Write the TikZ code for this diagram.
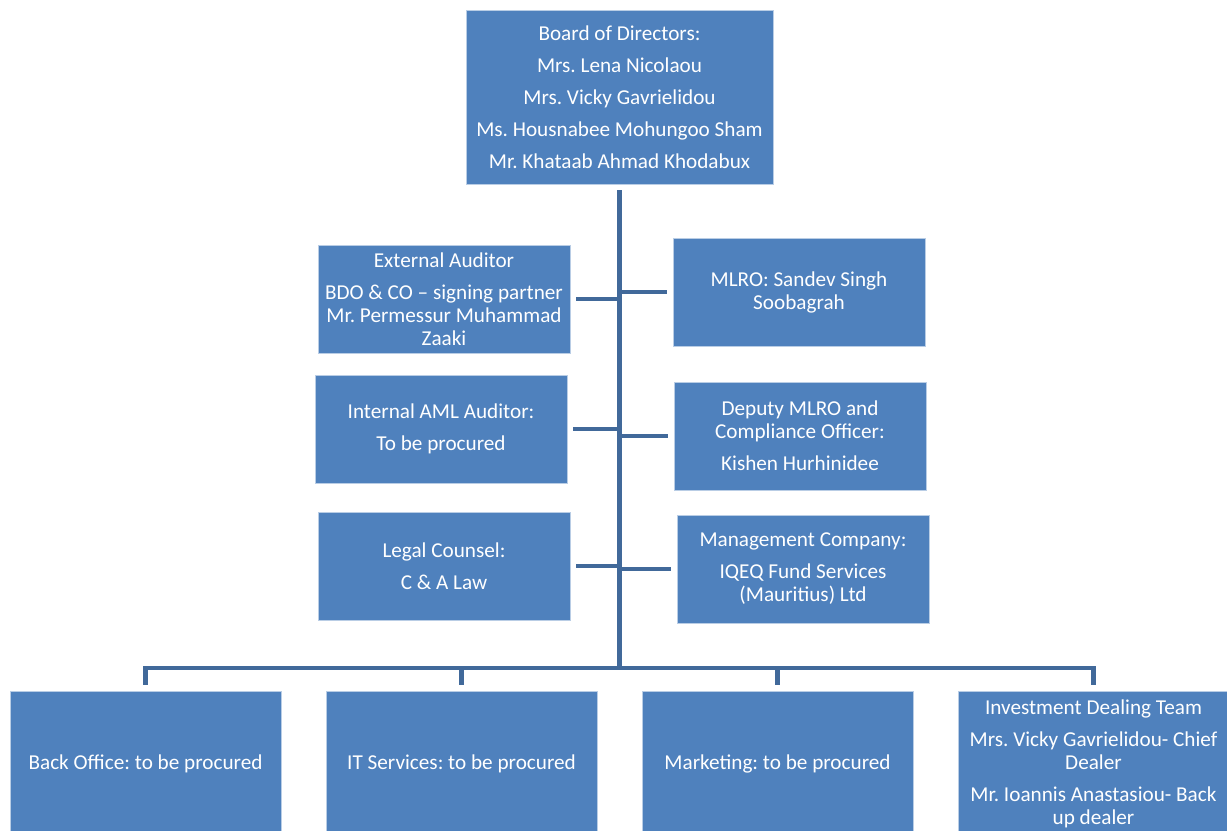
\documentclass[tikz,border=0pt]{standalone}
\usepackage{fontspec}
\setmainfont{Carlito}
\frenchspacing
\definecolor{boxblue}{HTML}{4F81BD}
\definecolor{linkblue}{HTML}{41699A}
\tikzset{every picture/.style={line width=0.75pt}}
\tikzset{
  box/.style={draw=white!60!boxblue,line width=0.6pt,fill=boxblue,text=white,align=center,
    font=\fontsize{15.9}{17.25}\selectfont,inner sep=0pt,
    minimum width=189pt,minimum height=81pt},
  bottom/.style={box,minimum width=203.25pt,minimum height=109.5pt},
  link/.style={draw=linkblue,line width=3.6pt}
}

\begin{document}
\begin{tikzpicture}[x=0.75pt,y=-0.75pt]
  \useasboundingbox (0,0) rectangle (1227,831);
  \clip (0,0) rectangle (1227,831);
  % top
  \node[box,minimum width=230.25pt,minimum height=130.5pt] (board) at (619.5,97)
    {Board of Directors:\\[6.75pt] Mrs. Lena Nicolaou\\[6.75pt] Mrs. Vicky Gavrielidou\\[6.75pt]
     Ms. Housnabee Mohungoo Sham\\[6.75pt] Mr. Khataab Ahmad Khodabux};
  % left column
  \node[box] (extaud) at (444,299)
    {External Auditor\\[6.75pt] BDO \& CO -- signing partner\\ Mr. Permessur Muhammad\\ Zaaki};
  \node[box] (intaud) at (441,429) {Internal AML Auditor:\\[6.75pt] To be procured};
  \node[box] (legal) at (444,566) {Legal Counsel:\\[6.75pt] C \& A Law};
  % right column
  \node[box] (mlro) at (799,292) {MLRO: Sandev Singh\\ Soobagrah};
  \node[box] (deputy) at (800,436) {Deputy MLRO and\\ Compliance Officer:\\[6.75pt] Kishen Hurhinidee};
  \node[box] (mgmt) at (803,569) {Management Company:\\[6.75pt] IQEQ Fund Services\\ (Mauritius) Ltd};
  % bottom row
  \node[bottom] (backoff) at (145.5,764) {Back Office: to be procured};
  \node[bottom] (itserv) at (461.5,764) {IT Services: to be procured};
  \node[bottom] (market) at (777.5,764) {Marketing: to be procured};
  \node[bottom] (invest) at (1093.5,764)
    {Investment Dealing Team\\[6.75pt] Mrs. Vicky Gavrielidou- Chief\\ Dealer\\[6.75pt]
     Mr. Ioannis Anastasiou- Back\\ up dealer};

  \coordinate (bus) at (619.5,668);
  \draw[link] ([yshift=-4.5pt]board.south) -- (bus);
  \draw[link] ([xshift=4.5pt]extaud.east) -- (extaud.east -| bus);
  \draw[link] ([xshift=4.5pt]intaud.east) -- (intaud.east -| bus);
  \draw[link] ([xshift=4.5pt]legal.east) -- (legal.east -| bus);
  \draw[link] ([xshift=-4.5pt]mlro.west) -- (mlro.west -| bus);
  \draw[link] ([xshift=-4.5pt]deputy.west) -- (deputy.west -| bus);
  \draw[link] ([xshift=-4.5pt]mgmt.west) -- (mgmt.west -| bus);
  \draw[link] ([yshift=4.5pt]backoff.north) |- (bus) -| ([yshift=4.5pt]invest.north);
  \draw[link] ([yshift=4.5pt]itserv.north) -- (itserv.north |- bus);
  \draw[link] ([yshift=4.5pt]market.north) -- (market.north |- bus);
\end{tikzpicture}
\end{document}
